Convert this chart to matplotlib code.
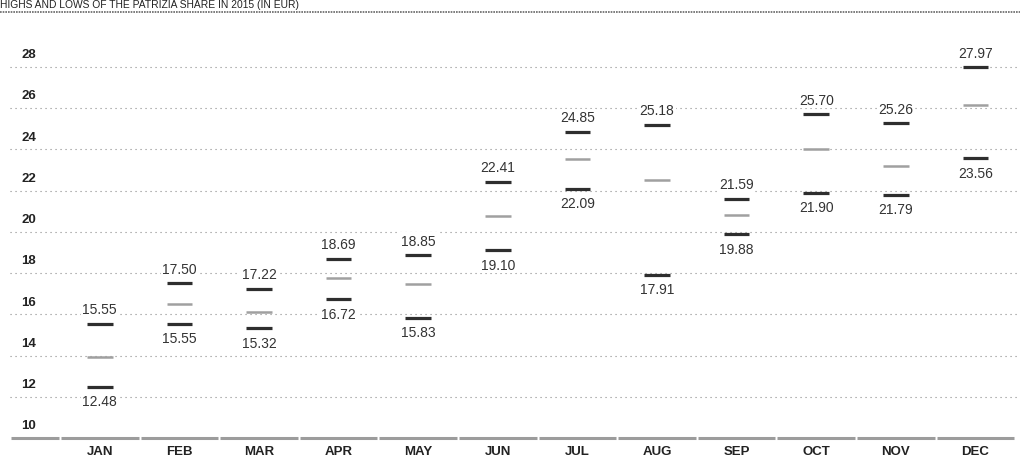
import numpy as np
import matplotlib
matplotlib.use("Agg")
import matplotlib.pyplot as plt
from matplotlib.lines import Line2D

months = ["JAN", "FEB", "MAR", "APR", "MAY", "JUN", "JUL", "AUG", "SEP", "OCT", "NOV", "DEC"]
highs = [15.55, 17.50, 17.22, 18.69, 18.85, 22.41, 24.85, 25.18, 21.59, 25.70, 25.26, 27.97]
lows = [12.48, 15.55, 15.32, 16.72, 15.83, 19.10, 22.09, 17.91, 19.88, 21.90, 21.79, 23.56]
mids = [13.93, 16.52, 16.11, 17.76, 17.49, 20.75, 23.55, 22.50, 20.80, 24.01, 23.21, 26.13]
y_ticks = [10, 12, 14, 16, 18, 20, 22, 24, 26, 28]

W, H = 1028, 460
fig = plt.figure(figsize=(W / 100, H / 100), dpi=100)
plt.rcParams['font.family'] = ['Liberation Sans', 'DejaVu Sans']

# axes area in pixels: left 10, right 1020, bottom 439, top ~43
ax = fig.add_axes([10 / W, 1 - 439 / H, 1010 / W, (439 - 43) / H])
ax.set_xlim(-1.128, -1.128 + 1010 / 79.6)
ax.set_ylim(10, 29.2)
ax.axis("off")

dark = "#2e2e2e"
grey = "#a0a0a0"

# dotted grid with value labels sitting above each line
for v in y_ticks:
    if v > 10:
        ax.axhline(v, color="#8a8a8a", lw=0.8, ls=(0, (1, 3.5)), zorder=1)
    ax.text(0.011, v + 0.32, str(v), transform=ax.get_yaxis_transform(),
            fontsize=9.5, fontweight="bold", color="#222222", va="bottom", ha="left")

# baseline split into one segment per month
edges = np.arange(-0.5, len(months) + 0.5, 1.0)
segs = [(-1.128, -0.5)] + [(a, b) for a, b in zip(edges[:-1], edges[1:])]
for a, b in segs:
    ax.plot([a + 0.012, b - 0.012], [10, 10], color="#9c9c9c", lw=2.2,
            solid_capstyle="butt", clip_on=False, zorder=2)

x = np.arange(len(months))
hw = 0.16
box = dict(facecolor="white", edgecolor="none", pad=1.0)
for i in x:
    ax.plot([i - hw, i + hw], [highs[i]] * 2, color=dark, lw=2.3, solid_capstyle="butt", zorder=3)
    ax.plot([i - hw, i + hw], [lows[i]] * 2, color=dark, lw=2.3, solid_capstyle="butt", zorder=3)
    ax.plot([i - hw, i + hw], [mids[i]] * 2, color=grey, lw=1.8, solid_capstyle="butt", zorder=3)
    ax.annotate(f"{highs[i]:.2f}", (i, highs[i]), xytext=(0, 5.5), textcoords="offset points",
                ha="center", va="bottom", fontsize=10, color="#333333", bbox=box, zorder=4)
    ax.annotate(f"{lows[i]:.2f}", (i, lows[i]), xytext=(0, -5.5), textcoords="offset points",
                ha="center", va="top", fontsize=10, color="#333333", bbox=box, zorder=4)
    ax.text(i, 9.35, months[i], ha="center", va="center", fontsize=9.5,
            fontweight="bold", color="#222222", clip_on=False)

# title strip along the top edge
fig.text(0.0, 1 - 8 / H, "HIGHS AND LOWS OF THE PATRIZIA SHARE IN 2015 (IN EUR)",
         fontsize=7.4, color="#222222", va="baseline", ha="left")
fig.add_artist(Line2D([0, 1020 / W], [1 - 13 / H] * 2, color="#666666", lw=1.2,
                      ls=(0, (1, 0.6))))

fig.savefig("out.png", dpi=100)
